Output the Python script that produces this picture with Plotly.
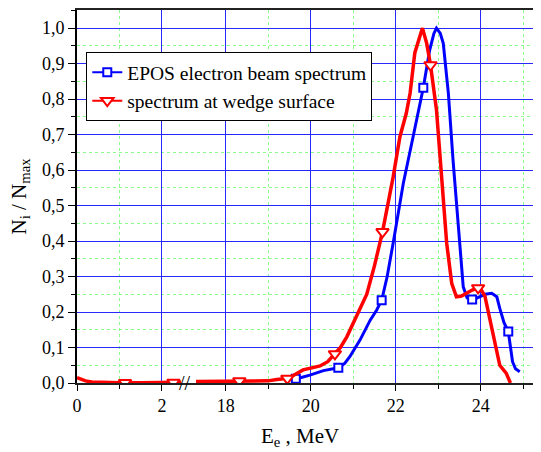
import numpy as np
import plotly.graph_objects as go

# EPOS electron beam spectrum (energy in MeV, normalised counts)
epos_e = [19.55, 19.65, 19.8, 19.98, 20.3, 20.65, 20.8, 20.92, 21.05, 21.16, 21.4, 21.55,
          21.67, 21.8, 21.94, 22.18, 22.41, 22.55, 22.65, 22.8, 22.9, 22.96, 23.05, 23.12,
          23.24, 23.35, 23.47, 23.59, 23.68, 23.75, 23.85, 23.98, 24.1, 24.26, 24.38, 24.45,
          24.55, 24.65, 24.7, 24.75, 24.82, 24.92]
epos_n = [0.008, 0.012, 0.016, 0.022, 0.035, 0.043, 0.055, 0.074, 0.1, 0.121, 0.177, 0.205,
          0.233, 0.3, 0.394, 0.563, 0.694, 0.77, 0.832, 0.938, 0.985, 1.0, 0.985, 0.957,
          0.816, 0.628, 0.44, 0.271, 0.24, 0.234, 0.236, 0.243, 0.25, 0.253, 0.243, 0.21,
          0.17, 0.145, 0.1, 0.06, 0.04, 0.032]
epos_marks = [19.65, 20.65, 21.67, 22.65, 23.8, 24.65]

# spectrum at wedge surface, low-energy part and main part
wedge_e_low = [0.0, 0.05, 0.1, 0.2, 0.35, 0.6, 1.0, 1.5, 2.0, 2.45]
wedge_n_low = [0.015, 0.013, 0.01, 0.006, 0.003, 0.002, 0.001, 0.001, 0.001, 0.002]
wedge_e = [17.3, 17.6, 18.0, 18.5, 19.0, 19.2, 19.45, 19.6, 19.82, 20.0, 20.22, 20.4, 20.57,
           20.7, 20.85, 21.08, 21.32, 21.5, 21.69, 21.94, 22.1, 22.25, 22.34, 22.45, 22.55,
           22.63, 22.73, 22.82, 22.96, 23.08, 23.2, 23.32, 23.43, 23.55, 23.67, 23.8, 23.94,
           24.0, 24.1, 24.2, 24.3, 24.38, 24.45, 24.6, 24.7]
wedge_n = [0.004, 0.004, 0.005, 0.006, 0.006, 0.01, 0.013, 0.022, 0.037, 0.042, 0.048, 0.06,
           0.082, 0.1, 0.13, 0.187, 0.25, 0.33, 0.426, 0.58, 0.694, 0.76, 0.817, 0.93, 0.97,
           1.0, 0.957, 0.896, 0.77, 0.58, 0.394, 0.28, 0.243, 0.245, 0.253, 0.262, 0.268,
           0.265, 0.245, 0.19, 0.14, 0.093, 0.05, 0.028, 0.0]
wedge_marks = [1.13, 2.27, 18.32, 19.45, 20.57, 21.69, 22.82, 23.94]

x_ticks = [0, 2, 18, 20, 22, 24]
x_minor = [1, 19, 21, 23, 25]

SHIFT = 14.5  # broken axis: 18 MeV is drawn where 3.5 would be


def brk(e):
    e = np.asarray(e, dtype=float)
    return np.where(e <= 2.5, e, e - SHIFT)


def curve(e_all, n_all, marks):
    m = np.interp(marks, e_all, n_all)
    return brk(marks), m


FONT = "Liberation Serif, Times New Roman, serif"
BLUE = "#0000ff"
RED = "#ff0000"

fig = go.Figure()

# blue
fig.add_trace(go.Scatter(x=brk(epos_e), y=epos_n, mode="lines",
                         line=dict(color=BLUE, width=3), showlegend=False))
mx, my = curve(epos_e, epos_n, epos_marks)
fig.add_trace(go.Scatter(x=mx, y=my, mode="markers", showlegend=False,
                         marker=dict(symbol="square", size=8, color="white",
                                     line=dict(color=BLUE, width=2))))

# red
wx = list(brk(wedge_e_low)) + [None] + list(brk(wedge_e))
wy = wedge_n_low + [None] + wedge_n
fig.add_trace(go.Scatter(x=wx, y=wy, mode="lines",
                         line=dict(color=RED, width=3.5), showlegend=False))
all_e = wedge_e_low + wedge_e
all_n = wedge_n_low + wedge_n
rx, ry = curve(all_e, all_n, wedge_marks)
fig.add_trace(go.Scatter(x=rx, y=ry, mode="markers", showlegend=False,
                         marker=dict(symbol="triangle-down", size=11, color="white",
                                     line=dict(color=RED, width=2))))

# legend entries
fig.add_trace(go.Scatter(x=[None], y=[None], mode="lines+markers",
                         name="EPOS electron beam spectrum",
                         line=dict(color=BLUE, width=2),
                         marker=dict(symbol="square", size=8, color="white",
                                     line=dict(color=BLUE, width=2))))
fig.add_trace(go.Scatter(x=[None], y=[None], mode="lines+markers",
                         name="spectrum at wedge surface",
                         line=dict(color=RED, width=2),
                         marker=dict(symbol="triangle-down", size=11, color="white",
                                     line=dict(color=RED, width=2))))

fig.add_annotation(x=2.55, y=0, xref="x", yref="y", text="//", showarrow=False,
                   font=dict(family=FONT, size=20, color="black"))
fig.add_annotation(x=0.48, y=-0.145, xref="paper", yref="paper", showarrow=False,
                   text="E<sub>e</sub> , MeV", xanchor="center", yanchor="middle",
                   font=dict(family=FONT, size=21, color="black"))
fig.add_annotation(x=-0.125, y=0.5, xref="paper", yref="paper", showarrow=False,
                   text="N<sub>i</sub> / N<sub>max</sub>", textangle=-90,
                   xanchor="center", yanchor="middle",
                   font=dict(family=FONT, size=21, color="black"))

# page body has an 8px margin, so the figure is 8px smaller and margins shifted
fig.update_layout(
    width=533, height=444,
    margin=dict(l=69, r=0, t=2, b=69),
    plot_bgcolor="white", paper_bgcolor="white",
    separators=",.",
    font=dict(family=FONT, size=18, color="black"),
    showlegend=True,
    legend=dict(x=0.02, y=0.887, xanchor="left", yanchor="top",
                bgcolor="white", bordercolor="black", borderwidth=1,
                font=dict(family=FONT, size=19.5, color="black"), tracegroupgap=0),
    xaxis=dict(
        range=[0, 25.42 - SHIFT], automargin=False,
        tickmode="array", tickvals=list(brk(x_ticks)), ticktext=[str(t) for t in x_ticks],
        tickfont=dict(family=FONT, size=18, color="black"),
        ticks="outside", ticklen=6, tickcolor="black",
        showline=True, linecolor="#222", linewidth=1.5, mirror=True,
        showgrid=True, gridcolor="rgb(40,40,255)", gridwidth=1,
        zeroline=False,
        minor=dict(tickmode="array", tickvals=list(brk(x_minor)), ticks="outside",
                   ticklen=4, tickcolor="black", showgrid=True,
                   gridcolor="rgb(140,250,140)", griddash="dot", gridwidth=1),
    ),
    yaxis=dict(
        range=[0, 1.051], dtick=0.1, tick0=0, tickformat=".1f", automargin=False,
        tickfont=dict(family=FONT, size=18, color="black"),
        ticks="outside", ticklen=7, tickcolor="black",
        showline=True, linecolor="black", linewidth=2,
        showgrid=True, gridcolor="rgb(40,40,255)", gridwidth=1,
        zeroline=False,
        minor=dict(dtick=0.05, ticks="outside", ticklen=4, tickcolor="black",
                   showgrid=True, gridcolor="rgb(140,250,140)", griddash="dot", gridwidth=1),
    ),
)

fig.write_html("out.html")
